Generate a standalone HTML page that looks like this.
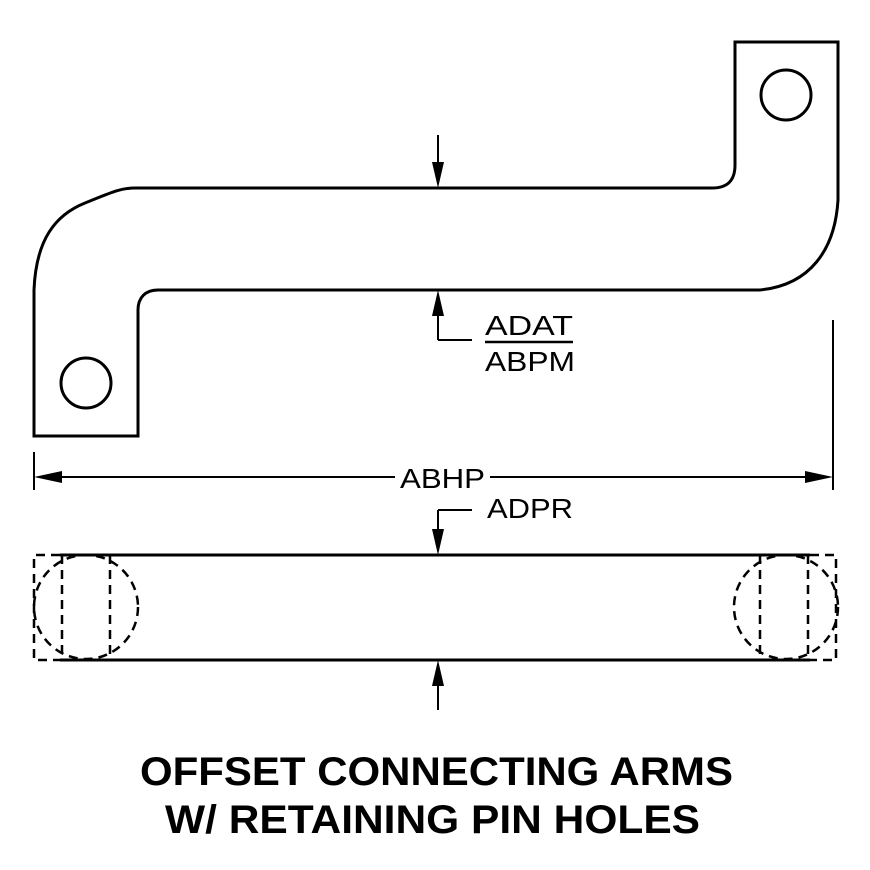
<!DOCTYPE html>
<html><head><style>body{margin:0;background:#fff}svg{display:block}</style></head><body>
<svg width="870" height="870" viewBox="0 0 870 870" xmlns="http://www.w3.org/2000/svg">
<g fill="none" stroke="#000" stroke-width="3">
<path d="M34,436 L34,290 C36,240 55,215 85,203 C110,193 120,188 135,188 L712,188 C728,188 735,180 735,165 L735,42 L838,42 L838,200 C835,250 810,285 760,290 L158,290 C145,290 138,298 138,310 L138,436 Z"/>
<circle cx="86" cy="383" r="25"/>
<circle cx="786" cy="95" r="25"/>
<path d="M60,555 L810,555 M60,660 L810,660"/>
<g stroke-dasharray="9,6" stroke-width="2.5">
<path d="M60,555 L34,555 L34,660 L60,660 M810,555 L836,555 L836,660 L810,660"/>
<path d="M62,555 L62,660 M110,555 L110,660 M760,555 L760,660 M808,555 L808,660"/>
<circle cx="86" cy="607" r="52"/>
<circle cx="786" cy="607" r="52"/>
</g>
<g stroke-width="2">
<line x1="34" y1="452" x2="34" y2="490"/>
<line x1="833" y1="320" x2="833" y2="490"/>
<line x1="60" y1="477" x2="395" y2="477"/><line x1="490" y1="477" x2="810" y2="477"/>
<line x1="438" y1="135" x2="438" y2="170"/>
<line x1="438" y1="308" x2="438" y2="340"/><line x1="438" y1="340" x2="472" y2="340"/>
<line x1="438" y1="510" x2="438" y2="535"/><line x1="438" y1="510" x2="472" y2="510"/>
<line x1="438" y1="680" x2="438" y2="710"/>
</g>
</g>
<g fill="#000">
<path d="M34,477 L62,471 L62,483 Z"/><path d="M833,477 L805,471 L805,483 Z"/>
<path d="M438,188 L432,162 L444,162 Z"/>
<path d="M438,290 L432,316 L444,316 Z"/>
<path d="M438,555 L432,529 L444,529 Z"/>
<path d="M438,660 L432,686 L444,686 Z"/>
</g>
<g font-family="Liberation Sans, sans-serif" font-size="28" fill="#000">
<text x="485" y="335" textLength="88" lengthAdjust="spacingAndGlyphs">ADAT</text>
<line x1="485" y1="342" x2="573" y2="342" stroke="#000" stroke-width="2.5"/>
<text x="485" y="371" textLength="90" lengthAdjust="spacingAndGlyphs">ABPM</text>
<text x="400" y="488" textLength="85" lengthAdjust="spacingAndGlyphs">ABHP</text>
<text x="487" y="518" textLength="86" lengthAdjust="spacingAndGlyphs">ADPR</text>
</g>
<g font-family="Liberation Sans, sans-serif" font-size="40" font-weight="bold" fill="#000">
<text x="140" y="785" textLength="593" lengthAdjust="spacingAndGlyphs">OFFSET CONNECTING ARMS</text>
<text x="165" y="833" textLength="535" lengthAdjust="spacingAndGlyphs">W/ RETAINING PIN HOLES</text>
</g>
</svg>
</body></html>
